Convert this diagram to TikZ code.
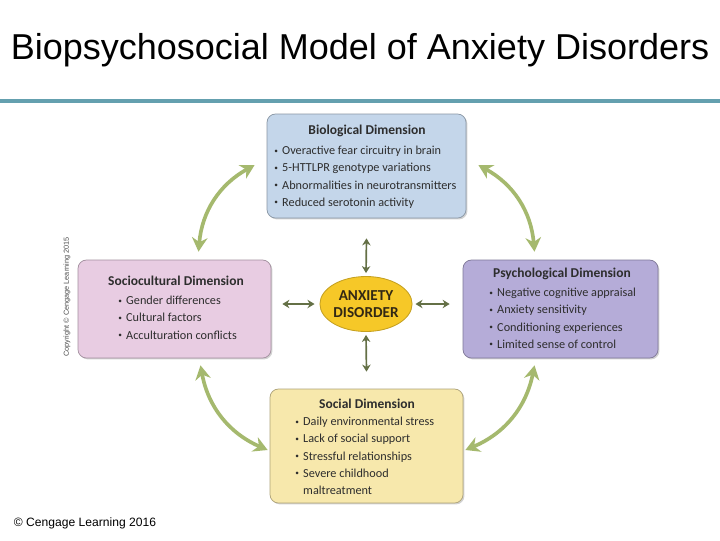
\documentclass[tikz,border=0pt]{standalone}
\usepackage{fontspec}
\setmainfont{Liberation Sans}
\newfontfamily\boxfont{Carlito}
\usetikzlibrary{arrows.meta,shapes.geometric,calc,shadows}
\definecolor{rulecol}{RGB}{100,160,175}
\definecolor{biofill}{RGB}{196,214,234}
\definecolor{psyfill}{RGB}{181,172,216}
\definecolor{socfill}{RGB}{232,204,226}
\definecolor{sclfill}{RGB}{247,232,172}
\definecolor{anxfill}{RGB}{246,200,40}
\definecolor{cycgreen}{RGB}{165,185,110}
\definecolor{hubgreen}{RGB}{100,112,70}
\definecolor{boxtext}{RGB}{45,45,45}
\newcommand{\bl}{\raisebox{0.25ex}{\scalebox{0.6}{\textbullet}}\hspace{0.35em}}
\begin{document}
\begin{tikzpicture}[x=0.025cm, y=-0.025cm,
    dimbox/.style={rounded corners=6pt, draw=#1!70!black, line width=0.5pt,
      drop shadow={shadow xshift=1pt, shadow yshift=-1pt, opacity=0.35}},
    dimtitle/.style={font=\boxfont\fontsize{9.6}{11}\selectfont\bfseries, text=boxtext, inner sep=0pt},
    dimlist/.style={font=\boxfont\fontsize{8.7}{12.2}\selectfont, text=boxtext, align=left, anchor=north west, inner sep=0pt},
    cycarrow/.style={draw=cycgreen, line width=2.6pt, {Stealth[length=10pt,width=11pt]}-{Stealth[length=10pt,width=11pt]}},
    hubarrow/.style={draw=hubgreen, line width=1.2pt, {Stealth[length=5pt,width=6pt]}-{Stealth[length=5pt,width=6pt]}}]
  \useasboundingbox[fill=white] (0,0) rectangle (720,540);
  % title and rule
  \node (title) at (360,50) {\fontsize{25.6}{30}\selectfont Biopsychosocial Model of Anxiety Disorders};
  \draw[rulecol, line width=2.2pt] (0,101) -- (720,101);
  % the four dimensions
  \node[dimbox=biofill, fill=biofill, minimum width=199*0.025cm, minimum height=104*0.025cm] (bio) at (366.5,166) {};
  \node[dimbox=psyfill, fill=psyfill, minimum width=195*0.025cm, minimum height=98*0.025cm] (psy) at (560.5,309) {};
  \node[dimbox=socfill, fill=socfill, minimum width=193*0.025cm, minimum height=98*0.025cm] (soc) at (174.5,309) {};
  \node[dimbox=sclfill, fill=sclfill, minimum width=193*0.025cm, minimum height=114*0.025cm] (scl) at (366.5,446) {};
  \node[dimtitle] (biot) at (367,131) {Biological Dimension};
  \node[dimtitle] (psyt) at (562,274) {Psychological Dimension};
  \node[dimtitle] (soct) at (176,281) {Sociocultural Dimension};
  \node[dimtitle] (sclt) at (367,404) {Social Dimension};
  \node[dimlist] (biol) at (274,146) {\bl Overactive fear circuitry in brain\\ \bl 5-HTTLPR genotype variations\\ \bl Abnormalities in neurotransmitters\\ \bl Reduced serotonin activity};
  \node[dimlist] (psyl) at (489,288) {\bl Negative cognitive appraisal\\ \bl Anxiety sensitivity\\ \bl Conditioning experiences\\ \bl Limited sense of control};
  \node[dimlist] (socl) at (118,296) {\bl Gender differences\\ \bl Cultural factors\\ \bl Acculturation conflicts};
  \node[dimlist] (scll) at (295,417) {\bl Daily environmental stress\\ \bl Lack of social support\\ \bl Stressful relationships\\ \bl Severe childhood\\ \phantom{\bl}maltreatment};
  % hub
  \node[ellipse, fill=anxfill, draw=anxfill!80!black, line width=0.6pt, minimum width=90*0.025cm, minimum height=55*0.025cm,
    inner sep=0pt, align=center, text={rgb,255:red,50;green,40;blue,20}, font=\boxfont\fontsize{10.8}{12.5}\selectfont\bfseries] (anx) at (366,304) {ANXIETY\\DISORDER};
  \draw[hubarrow] ($(anx.north)+(0,-3)$) -- ($(bio.south)+(0,20)$);
  \draw[hubarrow] ($(anx.south)+(0,3)$) -- ($(scl.north)+(0,-17)$);
  \draw[hubarrow] ($(anx.west)+(-5,0)$) -- ($(soc.east)+(11,-5)$);
  \draw[hubarrow] ($(anx.east)+(3,0)$) -- ($(psy.west)+(-13,-5)$);
  % cycle
  \draw[cycarrow] ($(bio.west)+(-12,-1)$) to[bend right=28] ($(soc.north)+(24,-8)$);
  \draw[cycarrow] ($(bio.east)+(12,-1)$) to[bend left=28] ($(psy.north)+(-26,-8)$);
  \draw[cycarrow] ($(soc.south)+(26,7)$) to[bend right=28] ($(scl.west)+(-2,4)$);
  \draw[cycarrow] ($(psy.south)+(-26,7)$) to[bend left=28] ($(scl.east)+(2,4)$);
  % credits
  \node[rotate=90, font=\fontsize{5.2}{6}\selectfont, text=black!70] (crv) at (67,297) {Copyright \textcopyright{} Cengage Learning 2015};
  \node[anchor=west, font=\fontsize{8.6}{10}\selectfont] (crb) at (9,523) {\textcopyright{} Cengage Learning 2016};
\end{tikzpicture}
\end{document}
